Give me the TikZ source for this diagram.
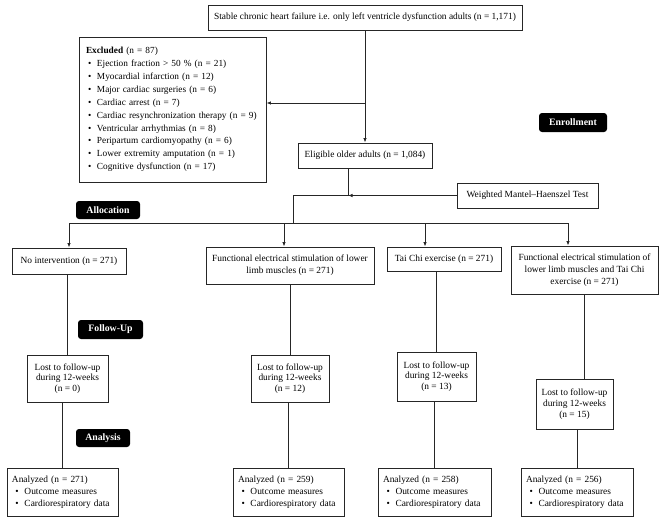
\documentclass[tikz,border=0pt]{standalone}
\usepackage{fontspec}
\setmainfont{Liberation Serif}
\usetikzlibrary{arrows.meta}

% vineta de las listas
\newcommand{\bul}{\makebox[12.5pt][l]{\hspace{3.5pt}\textbullet}}

\begin{document}
\begin{tikzpicture}[x=1pt, y=-1pt,
    caja/.style={draw=black!85, line width=0.9pt, fill=white, align=center, inner sep=0pt,
      font=\fontsize{9.4}{12}\selectfont},
    perdida/.style={caja, minimum height=47pt, font=\fontsize{9.4}{10.8}\selectfont},
    final/.style={caja, align=left, text width=101pt, inner xsep=5pt, minimum height=48pt,
      font=\fontsize{9.4}{11.8}\selectfont},
    etiq/.style={fill=black, rounded corners=3pt, text=white, inner sep=0pt,
      font=\fontsize{9.8}{11}\selectfont\bfseries},
    linea/.style={draw=black!85, line width=0.8pt},
    flecha/.style={linea, -{Latex[length=4.5pt, width=3.5pt]}}]

  % Marco
  \useasboundingbox (0,0) rectangle (666,522);

  % Inscripcion
  \node[caja, minimum width=314pt, minimum height=25pt] (cohorte) at (365,17.5)
    {Stable chronic heart failure i.e. only left ventricle dysfunction adults (n = 1,171)};
  \node[caja, align=left, text width=176pt, inner xsep=5.5pt, minimum height=145pt,
    font=\fontsize{9.3}{12.9}\selectfont] (excluidos) at (172.5,109.5)
    {\hspace{1.5pt}\textbf{Excluded} (n = 87)\\
     \bul Ejection fraction > 50 \% (n = 21)\\
     \bul Myocardial infarction (n = 12)\\
     \bul Major cardiac surgeries (n = 6)\\
     \bul Cardiac arrest (n = 7)\\
     \bul Cardiac resynchronization therapy (n = 9)\\
     \bul Ventricular arrhythmias (n = 8)\\
     \bul Peripartum cardiomyopathy (n = 6)\\
     \bul Lower extremity amputation (n = 1)\\
     \bul Cognitive dysfunction (n = 17)};
  \node[caja, minimum width=134pt, minimum height=25pt] (elegibles) at (365,155.5)
    {Eligible older adults (n = 1,084)};
  \node[caja, minimum width=141pt, minimum height=25pt] (wmh) at (527.5,195.5)
    {Weighted Mantel--Haenszel Test};

  % Etiquetas de fase
  \node[etiq, minimum width=68pt, minimum height=19pt] (inscr) at (573,122.5) {Enrollment};
  \node[etiq, minimum width=64pt, minimum height=18pt] (asig) at (108,210) {Allocation};
  \node[etiq, minimum width=65pt, minimum height=19pt] (segui) at (110.5,329.5) {Follow-Up};
  \node[etiq, minimum width=54pt, minimum height=18pt] (anal) at (103,438) {Analysis};

  % Grupos
  \node[caja, minimum width=114pt, minimum height=26pt] (sinint) at (69,261)
    {No intervention (n = 271)};
  \node[caja, minimum width=168pt, minimum height=37pt] (fes) at (290,265.5)
    {Functional electrical stimulation of lower\\limb muscles (n = 271)};
  \node[caja, minimum width=114pt, minimum height=24pt] (taichi) at (444,259)
    {Tai Chi exercise (n = 271)};
  \node[caja, minimum width=147pt, minimum height=48pt] (ambos) at (584.5,270)
    {Functional electrical stimulation of\\lower limb muscles and Tai Chi\\exercise (n = 271)};

  % Perdidas
  \node[perdida, minimum width=81pt] (perdidos1) at (67.5,378.5)
    {Lost to follow-up\\during 12-weeks\\(n = 0)};
  \node[perdida, minimum width=78pt] (perdidos2) at (290,378.5)
    {Lost to follow-up\\during 12-weeks\\(n = 12)};
  \node[perdida, minimum width=79pt, minimum height=49pt] (perdidos3) at (436.5,376.5)
    {Lost to follow-up\\during 12-weeks\\(n = 13)};
  \node[perdida, minimum width=77pt, minimum height=50pt] (perdidos4) at (574.5,404)
    {Lost to follow-up\\during 12-weeks\\(n = 15)};

  % Analisis
  \node[final] (analizados1) at (62.5,492)
    {Analyzed (n = 271)\\ \bul Outcome measures\\ \bul Cardiorespiratory data};
  \node[final] (analizados2) at (288.5,492)
    {Analyzed (n = 259)\\ \bul Outcome measures\\ \bul Cardiorespiratory data};
  \node[final, text width=103pt] (analizados3) at (434.5,492)
    {Analyzed (n = 258)\\ \bul Outcome measures\\ \bul Cardiorespiratory data};
  \node[final, text width=102pt] (analizados4) at (577,492)
    {Analyzed (n = 256)\\ \bul Outcome measures\\ \bul Cardiorespiratory data};

  % Puntos de union
  \coordinate (rama) at (365,103);
  \coordinate (union) at (348,195.5);
  \coordinate (barra) at (293,223);

  % Conexiones
  \draw[flecha] (cohorte.south) -- (elegibles.north);
  \draw[flecha] (rama) -- (rama -| excluidos.east);
  \draw[linea] (elegibles.south -| union) -- (union);
  \draw[flecha] (wmh.west) -- (union);
  \draw[linea] (union) -| (barra);
  \draw[flecha] (barra) -| (sinint.north);
  \draw[flecha] (barra) -| ([xshift=-6pt]fes.north);
  \draw[flecha] (barra) -| ([xshift=-19pt]taichi.north);
  \draw[flecha] (barra) -| ([xshift=-16.5pt]ambos.north);

  \draw[linea] (perdidos1.north |- sinint.south) -- (perdidos1.north);
  \draw[linea] (perdidos2.north |- fes.south) -- (perdidos2.north);
  \draw[linea] (perdidos3.north |- taichi.south) -- (perdidos3.north);
  \draw[linea] (ambos.south) -- (ambos.south |- perdidos4.north);
  \draw[linea] (analizados1.north |- perdidos1.south) -- (analizados1.north);
  \draw[linea] (analizados2.north |- perdidos2.south) -- (analizados2.north);
  \draw[linea] (analizados3.north |- perdidos3.south) -- (analizados3.north);
  \draw[linea] (analizados4.north |- perdidos4.south) -- (analizados4.north);
\end{tikzpicture}
\end{document}
